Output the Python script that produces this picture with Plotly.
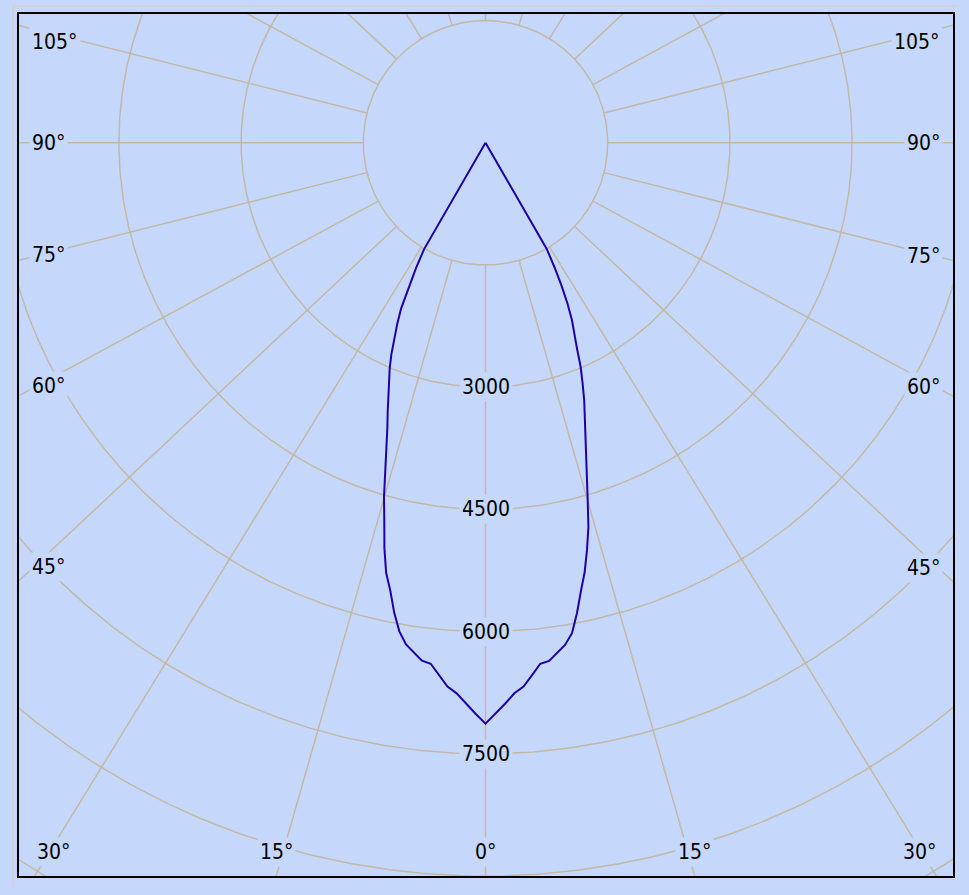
"""
Photometric polar diagram (C0 / C180 planes) drawn on a clipped cartesian frame.
"""

import numpy as np
import plotly.graph_objects as go


# ─── Data ──────────────────────────────────────────────────────────────────────

GAMMA = list(range(32))  # degrees from nadir

# C0 plane (right half), cd
I_C0 = [7130, 7010, 6890, 6766, 6692, 6560, 6430, 6407, 6320, 6241,
        6113, 5883, 5630, 5410, 5150, 4880, 4550, 4260, 3990, 3770,
        3560, 3380, 3180, 2990, 2760, 2590, 2420, 2220, 1990, 1750,
        1500, 0]

# C180 plane (left half), cd
I_C180 = [7130, 7010, 6890, 6767, 6692, 6560, 6430, 6405, 6315, 6235,
          6090, 5875, 5620, 5420, 5130, 4800, 4520, 4220, 3930, 3700,
          3510, 3340, 3160, 3010, 2840, 2660, 2470, 2280, 2000, 1760,
          1510, 0]

RINGS = [1500, 3000, 4500, 6000, 7500, 9000, 10500, 12000]
RING_LABELS = [3000, 4500, 6000, 7500]
SPOKES = list(range(0, 181, 15))
ANGLE_LABELS = [0, 15, 30, 45, 60, 75, 90, 105]


# ─── Style ─────────────────────────────────────────────────────────────────────

W, H = 969, 895
BG = "#c5d8fc"
GRID = "#c2b8a6"
CURVE = "#1f00a8"
FONT = dict(family="DejaVu Sans Condensed, Liberation Sans, sans-serif", size=21, color="#000000")

CD_PER_PX = 1500 / 122.2
# pixel geometry of the plot area relative to the diagram centre
LEFT_PX, RIGHT_PX, UP_PX, DOWN_PX = 466.5, 467.5, 128.8, 733.2
SPOKE_STRETCH = 1.065  # spokes in the original are slightly fanned out sideways


def spoke_angle(g_deg):
    g = np.radians(g_deg)
    return np.arctan2(SPOKE_STRETCH * np.sin(g), np.cos(g))


# ─── Figure ────────────────────────────────────────────────────────────────────

fig = go.Figure()

# rings
t = np.linspace(0, 2 * np.pi, 721)
rx, ry = [], []
for r in RINGS:
    rx += list(r * np.sin(t)) + [None]
    ry += list(r * np.cos(t)) + [None]
fig.add_trace(go.Scatter(x=rx, y=ry, mode="lines", line=dict(color=GRID, width=1.5),
                         hoverinfo="skip", showlegend=False))

# spokes, starting at the first ring
sx, sy = [], []
for side in (-1, 1):
    for g in SPOKES:
        if side == 1 and g in (0, 180):
            continue
        a = spoke_angle(g)
        r = np.array([RINGS[0], 15000])
        sx += list(side * r * np.sin(a)) + [None]
        sy += list(-r * np.cos(a)) + [None]
fig.add_trace(go.Scatter(x=sx, y=sy, mode="lines", line=dict(color=GRID, width=1.5),
                         hoverinfo="skip", showlegend=False))

# intensity curve
g = np.radians(GAMMA)
i0, i180 = np.array(I_C0, float), np.array(I_C180, float)
cx = np.concatenate([(-i180 * np.sin(g))[::-1], (i0 * np.sin(g))[1:]])
cy = np.concatenate([(-i180 * np.cos(g))[::-1], (-i0 * np.cos(g))[1:]])
fig.add_trace(go.Scatter(x=cx, y=cy, mode="lines", line=dict(color=CURVE, width=2),
                         hoverinfo="skip", showlegend=False))

# ring value labels on the 0° spoke
for v in RING_LABELS:
    fig.add_annotation(x=0, y=-v, text=str(v), showarrow=False, font=FONT,
                       bgcolor=BG, borderpad=2, xanchor="center", yanchor="middle")

# angle labels along the frame
for side in (-1, 1):
    for gl in ANGLE_LABELS:
        if side == 1 and gl == 0:
            continue
        a = spoke_angle(gl)
        sa, ca = np.sin(a), np.cos(a)
        edge = LEFT_PX if side == -1 else RIGHT_PX
        y_edge = edge * ca / sa if sa > 1e-9 else np.inf
        if y_edge < DOWN_PX:
            ypx = min(max(y_edge - 20 * ca, -UP_PX + 28), DOWN_PX - 24)
            xpx = side * (edge - 10)
            fig.add_annotation(x=xpx * CD_PER_PX, y=-ypx * CD_PER_PX, text=f"{gl}°",
                               showarrow=False, font=FONT, bgcolor=BG, borderpad=2,
                               xanchor="left" if side == -1 else "right", yanchor="middle")
        else:
            xpx = side * min(DOWN_PX * sa / ca, edge - 34)
            ypx = DOWN_PX - 24
            fig.add_annotation(x=xpx * CD_PER_PX, y=-ypx * CD_PER_PX, text=f"{gl}°",
                               showarrow=False, font=FONT, bgcolor=BG, borderpad=2,
                               xanchor="center", yanchor="middle")

# faint outer frame (top and left edges only)
ml, mt, mb = 19, 14, 19
pw, ph = W - ml - 16, H - mt - mb


def px_paper(px, py):
    return (px - ml) / pw, 1 - (py - mt) / ph


x_a, y_a = px_paper(13, 6)
x_b, _ = px_paper(957, 6)
_, y_c = px_paper(13, 887)
for x0, y0, x1, y1 in [(x_a, y_a, x_b, y_a), (x_a, y_a, x_a, y_c)]:
    fig.add_shape(type="line", xref="paper", yref="paper", x0=x0, y0=y0, x1=x1, y1=y1,
                  line=dict(color="#d6cdbe", width=1.2))

axis = dict(showgrid=False, zeroline=False, showticklabels=False, ticks="",
            showline=True, mirror=True, linecolor="#000000", linewidth=1.5, fixedrange=True)
fig.update_xaxes(range=[-LEFT_PX * CD_PER_PX, RIGHT_PX * CD_PER_PX], **axis)
fig.update_yaxes(range=[-DOWN_PX * CD_PER_PX, UP_PX * CD_PER_PX], **axis)
fig.update_layout(
    width=W, height=H, autosize=False,
    margin=dict(l=ml, r=16, t=mt, b=mb),
    paper_bgcolor=BG, plot_bgcolor=BG,
    font=FONT, showlegend=False, hovermode=False,
)

fig.write_html(
    "out.html",
    config={"displayModeBar": False},
    post_script="document.body.style.margin='0';document.body.style.overflow='hidden';"
                "document.body.style.background='" + BG + "';",
)
